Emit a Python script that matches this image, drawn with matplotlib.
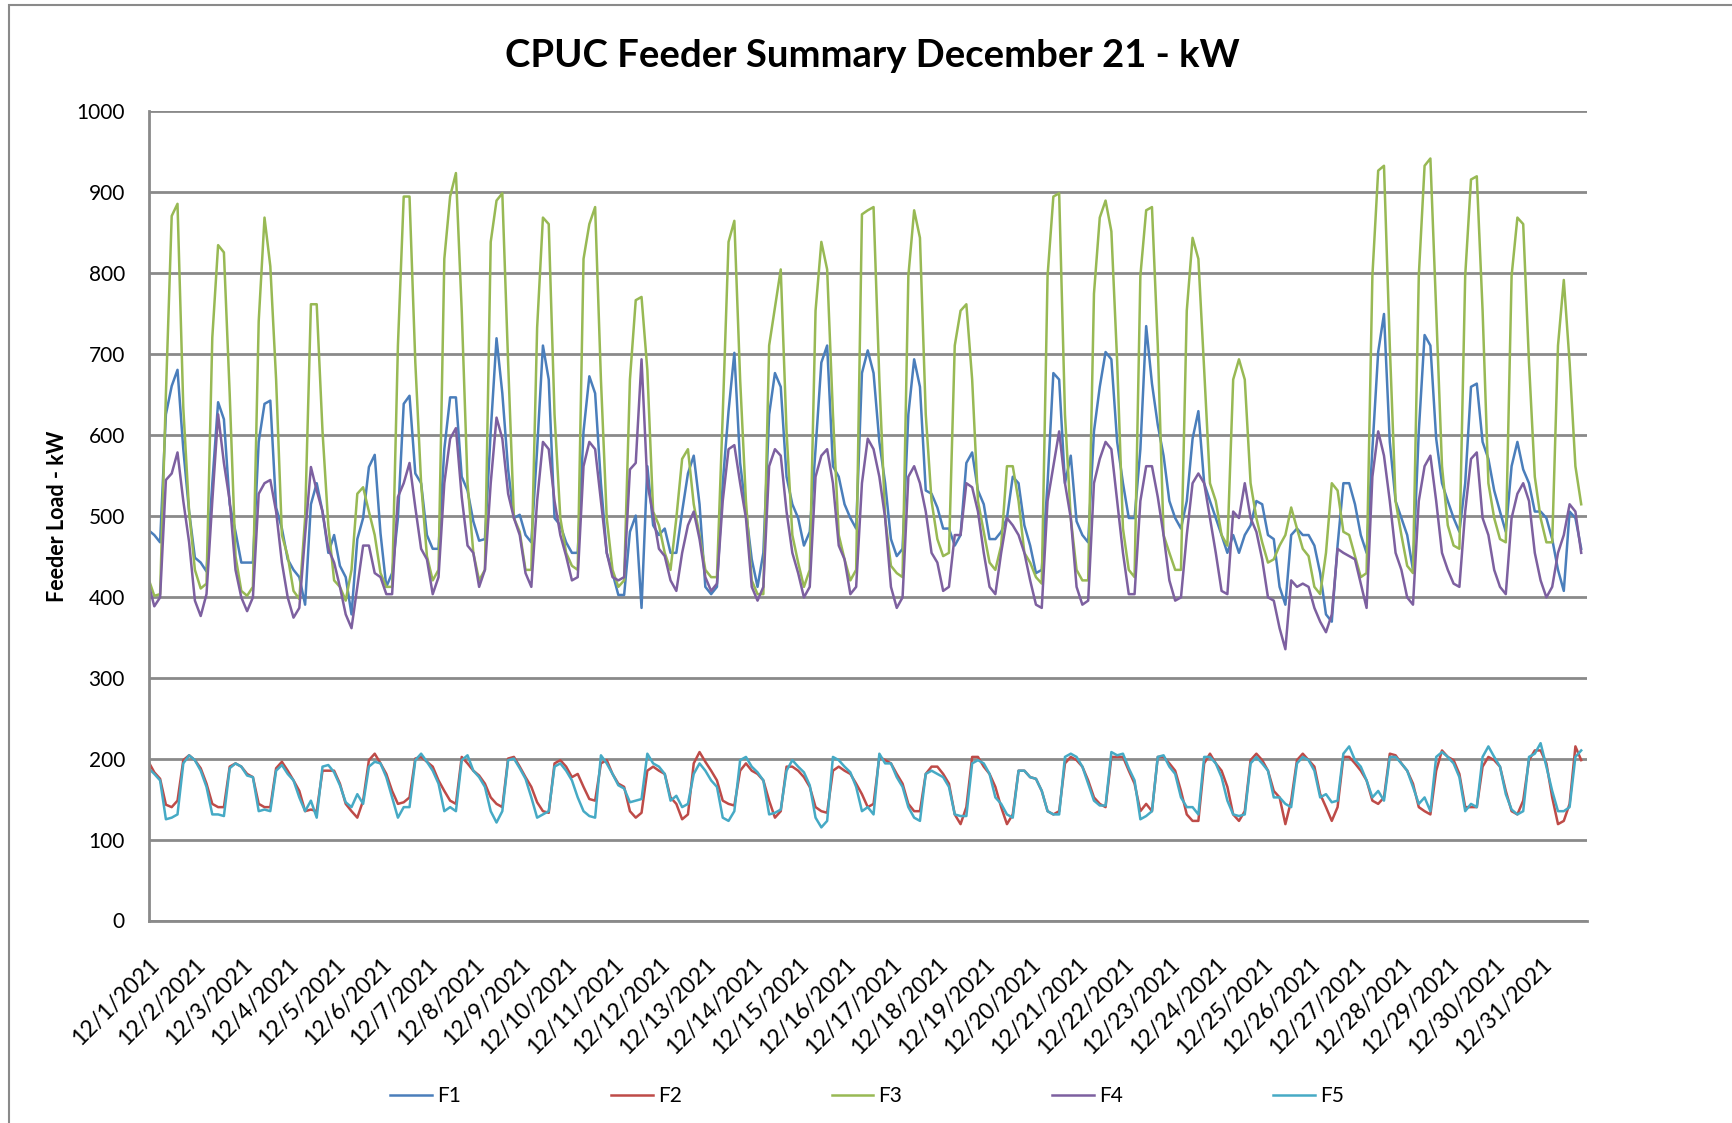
import numpy as np
import matplotlib
matplotlib.use("Agg")
import matplotlib.pyplot as plt
from matplotlib.patches import Rectangle
from matplotlib.transforms import ScaledTranslation

plt.rcParams['font.family'] = ['Lato', 'DejaVu Sans']

# ---------------- data (3-hourly samples, Dec 1 00:00 -> Dec 31 21:00) ----------------
title = "CPUC Feeder Summary December 21 - kW"
ylabel = "Feeder Load - kW"
series_names = ["F1", "F2", "F3", "F4", "F5"]
day_labels = [f"12/{d}/2021" for d in range(1, 32)]
hours = np.arange(0, 744, 3)

F1 = [
    482, 476, 467, 625, 660, 680, 582, 505,
    448, 442, 431, 540, 640, 619, 514, 480,
    442, 442, 442, 591, 638, 642, 510, 484,
    446, 433, 424, 390, 514, 540, 505, 454,
    476, 438, 424, 378, 471, 497, 560, 575,
    478, 412, 429, 497, 638, 648, 552, 540,
    476, 459, 459, 582, 646, 646, 548, 531,
    493, 469, 471, 604, 719, 651, 557, 497,
    501, 476, 467, 582, 710, 668, 497, 488,
    467, 454, 454, 604, 672, 651, 540, 454,
    429, 402, 402, 480, 500, 386, 561, 488,
    476, 484, 454, 454, 505, 552, 574, 514,
    412, 403, 412, 540, 629, 701, 565, 505,
    446, 412, 454, 625, 676, 659, 548, 514,
    497, 463, 480, 582, 689, 710, 561, 548,
    514, 497, 484, 676, 704, 676, 591, 540,
    471, 450, 459, 625, 693, 659, 531, 527,
    510, 484, 484, 463, 476, 565, 578, 531,
    514, 471, 471, 480, 497, 548, 540, 488,
    463, 429, 433, 540, 676, 668, 540, 574,
    493, 476, 467, 604, 659, 702, 693, 591,
    540, 497, 497, 582, 734, 663, 612, 574,
    518, 497, 484, 518, 595, 629, 540, 518,
    497, 476, 454, 476, 454, 476, 488, 518,
    514, 476, 471, 412, 390, 476, 484, 476,
    476, 463, 429, 378, 369, 463, 540, 540,
    514, 476, 454, 582, 702, 749, 591, 518,
    497, 476, 433, 604, 723, 710, 595, 540,
    518, 497, 480, 540, 659, 663, 591, 570,
    531, 505, 480, 561, 591, 557, 540, 505,
    505, 497, 471, 433, 407, 505, 497, 459,
]

F2 = [
    196, 183, 175, 143, 140, 148, 198, 204,
    198, 188, 169, 144, 140, 140, 190, 194,
    190, 181, 177, 144, 140, 140, 188, 196,
    185, 173, 160, 135, 137, 135, 185, 185,
    185, 169, 144, 135, 127, 148, 198, 206,
    194, 181, 160, 144, 146, 152, 200, 202,
    196, 190, 173, 160, 148, 144, 202, 194,
    185, 179, 169, 152, 144, 140, 200, 202,
    190, 177, 165, 146, 135, 133, 194, 198,
    190, 177, 181, 165, 150, 148, 194, 198,
    181, 169, 165, 135, 127, 133, 185, 190,
    185, 181, 152, 144, 125, 131, 194, 208,
    196, 185, 173, 148, 144, 142, 185, 194,
    185, 181, 173, 148, 127, 135, 190, 190,
    185, 177, 165, 140, 135, 133, 185, 190,
    185, 181, 169, 156, 140, 144, 202, 198,
    194, 181, 169, 144, 135, 135, 181, 190,
    190, 181, 169, 131, 119, 140, 202, 202,
    190, 181, 165, 140, 119, 131, 185, 185,
    177, 175, 160, 135, 131, 135, 194, 202,
    198, 190, 173, 152, 144, 140, 202, 202,
    202, 185, 169, 135, 144, 135, 202, 202,
    194, 185, 160, 131, 123, 123, 194, 206,
    194, 185, 165, 131, 123, 135, 198, 206,
    198, 185, 160, 152, 119, 148, 198, 206,
    198, 190, 156, 140, 123, 140, 202, 202,
    194, 185, 173, 148, 144, 152, 206, 204,
    194, 185, 169, 140, 135, 131, 185, 210,
    202, 198, 181, 140, 140, 140, 190, 202,
    198, 190, 160, 135, 131, 148, 198, 210,
    210, 194, 152, 119, 123, 144, 215, 198,
]

F3 = [
    422, 401, 403, 650, 870, 885, 633, 505,
    433, 410, 416, 720, 834, 825, 650, 450,
    407, 401, 412, 740, 868, 808, 668, 476,
    450, 407, 397, 497, 761, 761, 604, 488,
    420, 412, 395, 433, 527, 535, 505, 476,
    429, 412, 412, 710, 894, 894, 689, 540,
    450, 420, 433, 817, 894, 923, 753, 540,
    454, 420, 433, 838, 889, 898, 689, 497,
    480, 433, 433, 732, 868, 860, 625, 497,
    454, 438, 433, 817, 860, 881, 668, 497,
    433, 412, 420, 668, 766, 770, 680, 505,
    488, 454, 433, 497, 570, 582, 514, 476,
    433, 424, 424, 625, 838, 864, 668, 518,
    420, 403, 403, 710, 757, 804, 604, 476,
    442, 412, 433, 753, 838, 804, 625, 476,
    446, 420, 433, 872, 877, 881, 668, 497,
    438, 429, 424, 796, 877, 843, 625, 518,
    471, 450, 454, 710, 753, 761, 668, 518,
    480, 442, 433, 463, 561, 561, 518, 454,
    442, 424, 416, 796, 894, 898, 625, 497,
    433, 420, 420, 774, 868, 889, 851, 690,
    484, 433, 424, 796, 877, 881, 710, 476,
    454, 433, 433, 753, 843, 817, 680, 540,
    518, 476, 463, 668, 693, 668, 540, 497,
    467, 442, 446, 463, 476, 510, 484, 459,
    450, 412, 403, 454, 540, 531, 480, 476,
    450, 424, 429, 796, 926, 932, 710, 518,
    476, 438, 429, 796, 932, 941, 753, 561,
    488, 463, 459, 796, 915, 919, 753, 540,
    497, 471, 467, 796, 868, 860, 689, 548,
    497, 467, 467, 710, 791, 689, 561, 514,
]

F4 = [
    416, 388, 399, 544, 552, 578, 518, 467,
    395, 376, 403, 518, 625, 565, 518, 433,
    399, 382, 399, 527, 540, 544, 505, 442,
    399, 374, 386, 476, 560, 531, 505, 459,
    442, 412, 378, 361, 412, 463, 463, 429,
    424, 403, 403, 523, 540, 565, 510, 459,
    446, 403, 424, 540, 595, 608, 523, 463,
    454, 412, 433, 540, 621, 595, 527, 497,
    476, 429, 412, 518, 591, 582, 518, 476,
    450, 420, 424, 561, 591, 582, 518, 454,
    424, 420, 424, 557, 565, 693, 540, 501,
    459, 450, 420, 407, 454, 488, 505, 471,
    424, 407, 416, 518, 582, 587, 540, 497,
    412, 395, 412, 561, 582, 574, 505, 454,
    429, 399, 412, 548, 574, 582, 540, 463,
    446, 403, 412, 540, 595, 582, 548, 497,
    412, 386, 399, 548, 561, 540, 505, 454,
    442, 407, 412, 476, 476, 540, 535, 505,
    454, 412, 403, 454, 497, 488, 476, 454,
    420, 390, 386, 518, 561, 604, 540, 497,
    412, 390, 395, 540, 570, 591, 582, 518,
    454, 403, 403, 518, 561, 561, 523, 476,
    420, 395, 399, 476, 540, 552, 540, 497,
    454, 407, 403, 505, 497, 540, 497, 480,
    446, 399, 395, 361, 335, 420, 412, 416,
    412, 386, 369, 356, 378, 459, 454, 450,
    446, 416, 386, 548, 604, 574, 518, 454,
    433, 399, 390, 518, 561, 574, 518, 454,
    433, 416, 412, 505, 570, 578, 497, 476,
    433, 412, 403, 497, 527, 540, 518, 454,
    420, 399, 412, 454, 476, 514, 505, 454,
]

F5 = [
    188, 181, 173, 125, 127, 131, 194, 204,
    198, 185, 165, 131, 131, 129, 188, 194,
    190, 179, 177, 135, 137, 135, 185, 192,
    181, 173, 152, 135, 148, 127, 190, 192,
    183, 167, 146, 140, 156, 144, 190, 196,
    194, 177, 152, 127, 140, 140, 198, 206,
    196, 185, 169, 135, 140, 135, 198, 204,
    185, 177, 165, 135, 121, 135, 198, 200,
    188, 175, 152, 127, 131, 135, 190, 194,
    185, 173, 152, 135, 129, 127, 204, 194,
    181, 167, 163, 146, 148, 150, 206, 194,
    190, 181, 148, 154, 140, 144, 181, 194,
    185, 173, 165, 127, 123, 135, 198, 202,
    190, 183, 173, 131, 133, 137, 185, 198,
    190, 183, 167, 127, 115, 123, 202, 198,
    190, 183, 165, 135, 140, 131, 206, 194,
    194, 177, 165, 140, 127, 123, 181, 185,
    181, 177, 165, 131, 129, 129, 194, 198,
    194, 181, 152, 144, 131, 127, 185, 185,
    177, 175, 160, 135, 131, 131, 202, 206,
    202, 190, 169, 148, 142, 142, 208, 204,
    206, 188, 173, 125, 129, 135, 202, 204,
    190, 181, 152, 140, 140, 131, 202, 202,
    194, 177, 148, 131, 129, 131, 194, 202,
    194, 185, 152, 152, 144, 140, 194, 202,
    198, 185, 152, 156, 146, 148, 206, 215,
    198, 190, 173, 152, 160, 148, 202, 202,
    194, 185, 165, 144, 152, 135, 202, 208,
    202, 194, 177, 135, 144, 140, 202, 215,
    202, 190, 156, 137, 131, 135, 202, 206,
    219, 190, 160, 135, 135, 140, 202, 210,
]

colors = ["#4A7EBB", "#BE4B48", "#98B954", "#7D60A0", "#46AAC5"]

# ---------------- figure ----------------
W, H = 1732, 1123
fig = plt.figure(figsize=(W / 100, H / 100), dpi=100)
ax = fig.add_axes([148.5 / W, 1 - 920.5 / H, (1587 - 148.5) / W, (920.5 - 110.7) / H])

for name, vals, c in zip(series_names, [F1, F2, F3, F4, F5], colors):
    ax.plot(hours, vals, color=c, lw=1.8, label=name, solid_joinstyle='round')

ax.set_xlim(0, 744)
ax.set_ylim(0, 1000)
ax.set_yticks(np.arange(0, 1001, 100))
ax.yaxis.grid(True, color="#8a8a8a", lw=2)
ax.set_axisbelow(True)
for s in ["top", "right"]:
    ax.spines[s].set_visible(False)
for s in ["left", "bottom"]:
    ax.spines[s].set_color("#8a8a8a")
    ax.spines[s].set_linewidth(2)

ax.set_xticks(np.arange(31) * 24)
ax.set_xticklabels(day_labels, rotation=45, ha="right", va="top",
                   rotation_mode="anchor", fontsize=16.5)
ax.tick_params(axis="x", length=0, pad=24)
ax.tick_params(axis="y", length=0, pad=17, labelsize=15)
off = ScaledTranslation(0.0, 0, fig.dpi_scale_trans)
for lbl in ax.get_xticklabels():
    lbl.set_transform(lbl.get_transform() + off)

fig.text(872 / W, 1 - 56 / H, title, ha="center", va="center",
         fontsize=27.5, fontweight="bold")
fig.text(58 / W, 1 - 516 / H, ylabel, ha="center", va="center",
         rotation=90, fontsize=15.5, fontweight="bold")

fig.legend(loc="center", bbox_to_anchor=(867 / W, 1 - 1096 / H), ncol=5,
           frameon=False, fontsize=15, handlelength=2.0, handletextpad=0.25,
           columnspacing=7.2)

fig.patches.append(Rectangle((9 / W, -0.1), 1.2, 1 - 5 / H + 0.1,
                             transform=fig.transFigure, fill=False,
                             edgecolor="#8a8a8a", lw=1.5, clip_on=False))

fig.savefig("out.png", dpi=100)
